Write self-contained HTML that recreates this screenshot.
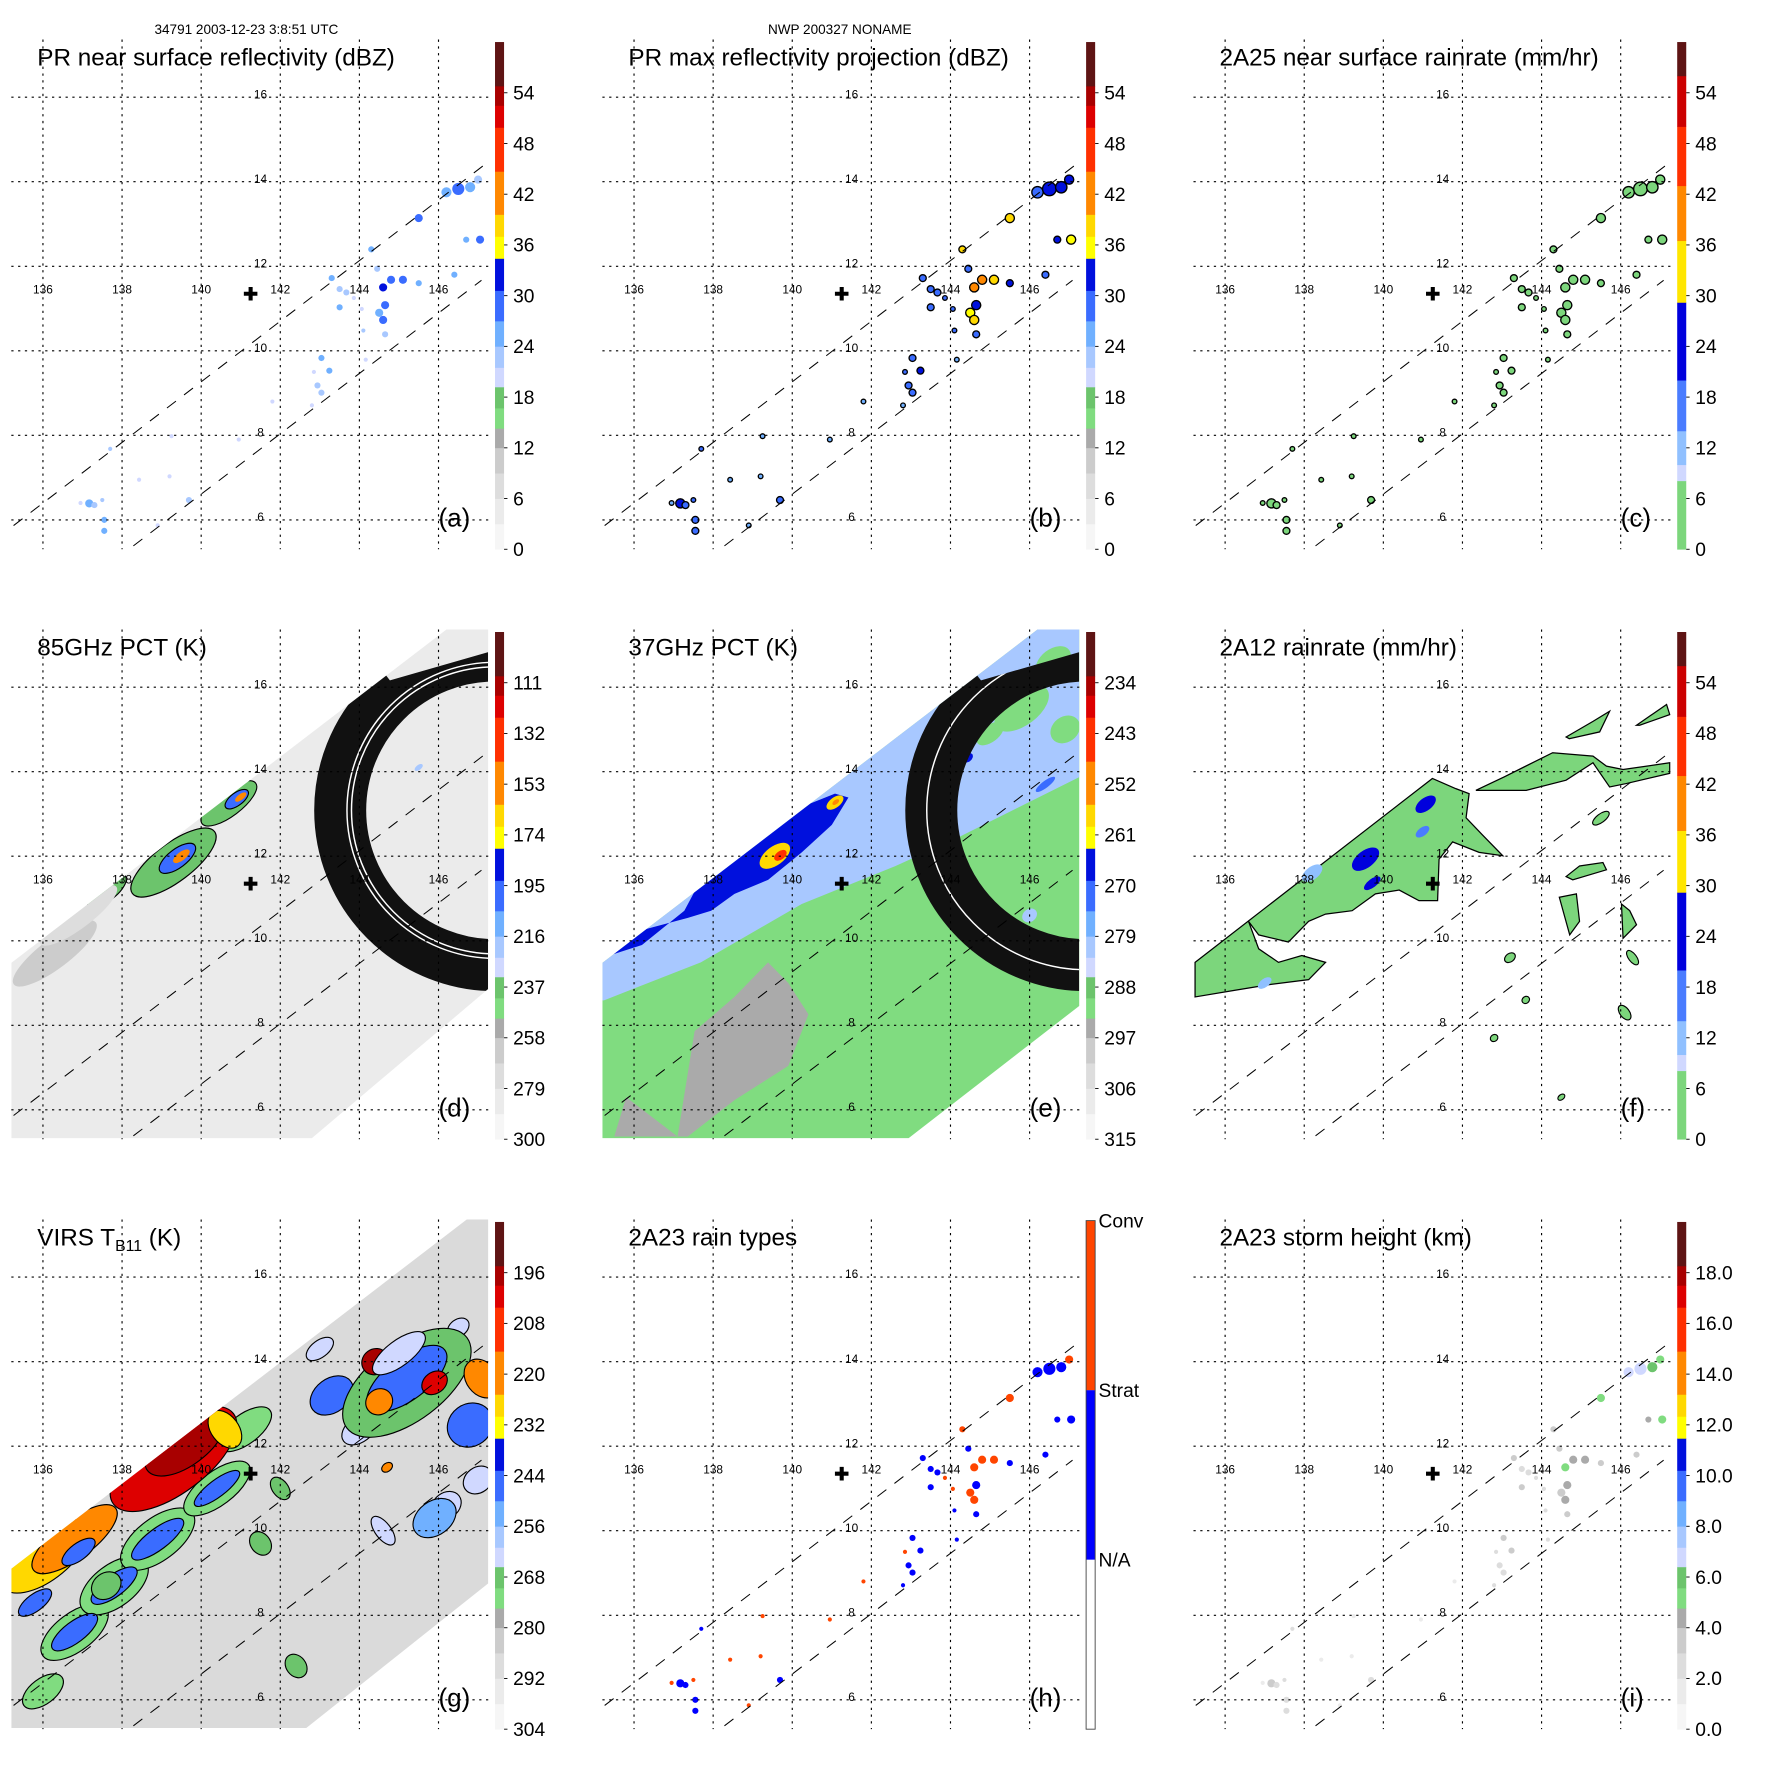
<!DOCTYPE html>
<html><head><meta charset="utf-8"><title>TRMM overpass panels</title>
<style>html,body{margin:0;padding:0;background:#fff}svg{display:block}text{font-family:"Liberation Sans",Arial,sans-serif}</style>
</head><body>
<svg id="fig" xmlns="http://www.w3.org/2000/svg" width="1771" height="1771" viewBox="0 0 1567 1567"></svg>
<script>
// ---------------- DATA ----------------
const prLon=[146.2,146.5,146.8,147.0,145.5,146.7,147.05,144.3,144.45,144.8,145.1,145.5,144.6,144.65,144.5,144.6,144.65,143.3,143.5,143.67,143.5,143.86,144.06,144.1,146.4,143.04,143.24,142.94,143.04,142.85,144.16,142.8,141.8,140.95,139.25,137.7,138.43,139.2,137.17,137.5,137.55,137.55,139.69,138.9,136.95,137.3];
const prLat=[13.75,13.83,13.87,14.05,13.14,12.63,12.63,12.4,11.94,11.68,11.68,11.6,11.5,11.08,10.9,10.73,10.39,11.72,11.46,11.38,11.03,11.25,10.99,10.48,11.8,9.83,9.53,9.18,9.01,9.5,9.79,8.71,8.8,7.9,7.98,7.68,6.95,7.03,6.39,6.47,6.0,5.74,6.47,5.87,6.4,6.35];
const nsDbz=[26,28,24,22,27,26,30,24,23,30,28,24,32,27,26,30,22,24,23,22,24,21,21,22,24,24,25,23,22,21,21,21,20,20,20,23,20,20,25,22,25,24,23,20,21,22];
const maxDbz=[30,33,31,34,38,32,35,37,30,42,38,31,40,33,36,38,29,30,29,28,29,27,27,28,30,30,31,29,28,27,26,26,25,25,24,28,24,24,31,28,30,29,29,25,26,28];
const rainRate=[2,3,2,3,4,2,3,3,2,6,4,2,7,3,4,5,2,2,1,1,2,1,1,1,2,2,2,2,1,1,1,1,1,1,1,1,1,1,2,1,2,2,1,1,1,1];
const rainType=[1,1,1,2,2,1,1,2,1,2,2,1,2,1,2,2,1,1,1,1,1,2,2,1,1,1,1,1,1,2,1,1,2,2,2,1,2,2,1,2,1,1,1,2,2,1];
const stormHt=[6.5,6.8,6.2,5.5,5.0,4.5,5.0,3.5,3.0,4.5,4.0,3.5,5.0,4.0,3.5,4.0,3.0,3.0,2.5,2.5,3.0,2.5,2.5,2.5,3.0,3.0,3.0,2.5,2.5,2.0,2.0,2.0,1.5,1.5,1.5,2.0,1.5,1.5,3.0,2.5,2.5,2.5,2.0,1.5,1.5,2.0];
const prSize=[4,5,4,3,3,2,3,2,2,3,3,2,3,3,3,3,2,2,2,2,2,1,1,1,2,2,2,2,2,1,1,1,1,1,1,1,1,1,3,1,2,2,2,1,1,2];

// 85 GHz PCT cells (K): lon, lat, value, extent (deg)
const p85Lon=[136.3,137.6,139.3,140.7,139.4,140.9,143.9,145.5,139.5,141.0,136.9];
const p85Lat=[9.7,11.2,11.85,13.25,11.95,13.35,14.7,14.1,12.0,13.4,10.6];
const p85Val=[268,240,240,240,205,205,215,220,150,150,272];
const p85Rx=[1.3,0.6,1.3,0.85,0.55,0.35,0.15,0.12,0.25,0.17,1.2];
const p85Ry=[0.35,0.25,0.45,0.3,0.22,0.15,0.08,0.06,0.1,0.07,0.3];

// 37 GHz PCT (K)
const p37Base=292, p37Edge=280;
const p37EdgeLon=[135.0,135.24,137.69,140.24,142.61,144.14,147.27,147.6,147.6,135.0];
const p37EdgeLat=[8.59,8.59,9.49,10.87,11.77,12.42,13.88,13.88,18.0,18.0];
const p37BandLon=[137.27,137.69,139.05,140.41,141.08,141.42,141.0,140.24,139.39,138.54,137.95,137.36,136.0,135.2,135.2,136.2];
const p37BandLat=[10.71,11.44,12.34,13.23,13.48,13.39,12.74,12.09,11.44,11.11,10.71,10.54,10.2,10.0,9.6,9.9];
const p37BandVal=266;
const p37GrayLon=[137.1,137.53,138.54,139.39,139.9,140.41,139.9,138.54,137.36,135.5,135.8];
const p37GrayLat=[5.37,7.86,8.67,9.49,9.0,8.26,7.04,6.23,5.37,5.37,6.3];
const p37GrayVal=296;
const p37Lon=[145.8,146.6,145.0,146.9,139.56,139.7,141.08,141.1,144.43,146.4,146.0];
const p37Lat=[15.5,16.6,14.9,15.0,12.01,12.02,13.27,13.28,14.33,13.7,10.6];
const p37Val=[290,290,290,290,259,245,259,250,266,272,280];
const p37Rx=[0.8,0.5,0.4,0.4,0.45,0.18,0.25,0.1,0.15,0.3,0.2];
const p37Ry=[0.4,0.3,0.2,0.3,0.22,0.1,0.12,0.05,0.1,0.08,0.15];

// 2A12 rain polygons (mm/hr)
const f1Lon=[135.24,141.24,141.83,142.17,142.09,142.51,143.02,142.42,141.75,141.41,141.37,140.9,140.4,139.8,139.21,138.54,138.11,137.6,136.85,136.59,136.85,137.35,137.94,138.54,138.11,137.1,136.25,135.24];
const f1Lat=[9.49,13.84,13.6,13.48,12.91,12.5,12.01,12.09,12.34,11.93,10.95,10.95,11.2,11.11,10.71,10.63,10.46,9.97,10.14,10.46,9.81,9.49,9.65,9.49,9.08,8.96,8.83,8.67];
const f2Lon=[142.34,143.06,144.28,145.3,145.64,146.06,147.24,147.24,146.14,145.72,145.3,144.62,143.61,143.1];
const f2Lat=[13.56,13.88,14.45,14.37,14.13,14.05,14.21,13.96,13.72,13.64,14.21,13.8,13.56,13.56];
const f3Lon=[144.62,145.3,145.72,145.47,144.7];
const f3Lat=[14.82,15.19,15.43,14.94,14.78];
const f4Lon=[146.4,147.16,147.24,146.48];
const f4Lat=[15.1,15.59,15.35,15.1];
const f5Lon=[144.62,144.96,145.55,145.64,144.79];
const f5Lat=[11.52,11.77,11.85,11.68,11.44];
const f6Lon=[144.45,144.88,144.96,144.71];
const f6Lat=[11.03,11.11,10.46,10.14];
const f7Lon=[146.02,146.23,146.4,146.06];
const f7Lat=[10.87,10.71,10.38,10.06];
const fRain=[2,2,2,2,2,2,2];
const fCellLon=[141.07,139.55,140.99,139.72,138.2,137.0,143.2,146.3,145.5,142.8,143.6,146.1,144.5];
const fCellLat=[13.23,11.93,12.58,11.36,11.6,9.0,9.6,9.6,12.9,7.7,8.6,8.3,6.3];
const fCellVal=[20,24,18,20,10,10,2,2,2,2,2,2,2];
const fCellRx=[0.3,0.4,0.2,0.25,0.3,0.2,0.15,0.1,0.25,0.1,0.1,0.12,0.1];
const fCellRy=[0.15,0.2,0.1,0.1,0.15,0.1,0.1,0.2,0.1,0.08,0.08,0.2,0.06];

// VIRS TB11 cells (K)
const vLon=[136.8,137.8,138.9,140.4,141.1,136.0,143.3,144.0,146.8,147.0,146.2,143.0,146.5,136.8,137.8,138.9,140.4,136.0,136.8,136.9,135.8,139.3,139.6,140.6,145.2,145.2,144.4,144.5,145.9,147.1,144.7,145.9,144.6,142.4,142.0,141.5,145.0,137.6];
const vLat=[7.6,8.7,9.8,11.0,12.4,6.2,13.2,12.4,12.5,11.2,10.6,14.3,14.8,7.6,8.7,9.8,11.0,9.4,9.8,9.5,8.3,11.7,12.1,12.4,13.5,13.6,14.0,13.05,13.5,13.6,11.5,10.3,10.0,6.8,11.0,9.7,14.2,8.7];
const vVal=[272,272,272,272,272,272,250,262,248,262,262,262,262,248,248,248,248,230,218,245,245,203,197,225,266,248,198,218,203,218,218,255,262,266,266,266,262,270];
const vRx=[1.0,1.0,1.1,1.0,0.8,0.6,0.6,0.5,0.6,0.4,0.4,0.4,0.3,0.7,0.7,0.8,0.7,1.3,1.3,0.5,0.5,1.9,1.2,0.35,1.9,1.2,0.35,0.35,0.35,0.4,0.15,0.6,0.2,0.25,0.2,0.25,0.8,0.4];
const vRy=[0.45,0.5,0.5,0.4,0.35,0.3,0.4,0.3,0.5,0.3,0.3,0.2,0.2,0.25,0.25,0.25,0.2,0.6,0.45,0.2,0.2,0.8,0.55,0.5,0.9,0.5,0.3,0.3,0.25,0.5,0.1,0.4,0.4,0.3,0.3,0.3,0.3,0.3];

// colorbar tick labels
const ticksDbz=['0','6','12','18','24','30','36','42','48','54'];
const ticks85=['300','279','258','237','216','195','174','153','132','111'];
const ticks37=['315','306','297','288','279','270','261','252','243','234'];
const ticksVirs=['304','292','280','268','256','244','232','220','208','196'];
const ticksHt=['0.0','2.0','4.0','6.0','8.0','10.0','12.0','14.0','16.0','18.0'];
const ticksType=['N/A','Strat','Conv'];
const lonTicks=[136,138,140,142,144,146];
const latTicks=[16,14,12,10,8,6];
const siteLon=141.25, siteLat=11.35;

// ---------------- RENDER ----------------
const NS='http://www.w3.org/2000/svg';
const svg=document.getElementById('fig');
function mk(tag,parent,attrs){const e=document.createElementNS(NS,tag);for(const k in attrs)e.setAttribute(k,attrs[k]);parent.appendChild(e);return e;}
const dbzBands=[[0,3,'#f6f6f6'],[3,6,'#ebebeb'],[6,9,'#dddddd'],[9,12,'#cccccc'],[12,14.3,'#aaaaaa'],[14.3,16.7,'#80dc80'],[16.7,19.2,'#6cc46c'],[19.2,21.5,'#d0d8ff'],[21.5,24,'#a8c8ff'],[24,27,'#70b0ff'],[27,30.6,'#3a6cff'],[30.6,34.4,'#0010dd'],[34.4,37,'#ffff00'],[37,39.6,'#ffd800'],[39.6,44.7,'#ff8800'],[44.7,49.9,'#ff3000'],[49.9,52.5,'#dd0000'],[52.5,54.8,'#a80000'],[54.8,60,'#5e1414']];
const rainBands=[[0,8.1,'#7cd67c'],[8.1,10,'#d0d8ff'],[10,14,'#90c0ff'],[14,20,'#4a7cff'],[20,29.2,'#0000dd'],[29.2,36.5,'#ffe600'],[36.5,43,'#ff8800'],[43,50,'#ff3000'],[50,56,'#cc0000'],[56,60,'#5e1414']];
function band(b,v){for(const s of b){if(v<s[1])return s[2];}return b[b.length-1][2];}
const cDbz=v=>band(dbzBands,Math.max(0,v));
const cRain=v=>band(rainBands,Math.max(0,v));
const c85=v=>cDbz((300-v)/3.5), c37=v=>cDbz((315-v)/1.5), cV=v=>cDbz((304-v)/2), cHt=v=>cDbz(v*3);

function panel(c,r,name){
  const ox=10+523*c, oy=35+522*r;
  const P={ox,oy,x:lon=>ox+28+(lon-136)*35,y:lat=>oy+51+(16-lat)*37.4};
  const g=mk('g',svg,{});
  
  
  const cp=mk('clipPath',svg,{id:'clip'+c+r});mk('rect',cp,{x:ox,y:oy,width:422,height:451});
  P.g=g;P.map=mk('g',g,{'clip-path':'url(#clip'+c+r+')'});
  
  
  return P;
}
function poly(P,parent,lons,lats,fill,stroke){
  const pts=lons.map((l,i)=>P.x(l).toFixed(1)+','+P.y(lats[i]).toFixed(1)).join(' ');
  return mk('polygon',parent,{points:pts,fill:fill,stroke:stroke||'none','stroke-width':1.1});
}
function ell(P,parent,lon,lat,rx,ry,fill,stroke){
  const cx=P.x(lon),cy=P.y(lat);
  return mk('ellipse',parent,{cx:cx,cy:cy,rx:rx*35,ry:ry*37.4,fill:fill,stroke:stroke||'none','stroke-width':1,transform:'rotate(-37 '+cx+' '+cy+')'});
}
function swath(P,pts,fill){
  const s=mk('polygon',P.map,{points:pts.map(p=>(P.ox+p[0])+','+(P.oy+p[1])).join(' '),fill:fill});
  
  
  const cp=mk('clipPath',svg,{id:'sw'+P.ox+P.oy});mk('polygon',cp,{points:s.getAttribute('points')});
  const inner=mk('g',P.map,{'clip-path':'url(#sw'+P.ox+P.oy+')'});
  return inner;
}
function arcs(P,parent,rings){
  const cx=P.ox+428,cy=P.oy+160;
  const id='arc'+P.ox+P.oy;
  const cp=mk('clipPath',svg,{id:id});
  mk('polygon',cp,{points:[[0,0],[300,0],[335,45],[422,20],[422,450],[0,450]].map(p=>(P.ox+p[0])+','+(P.oy+p[1])).join(' ')});
  const a=mk('g',parent,{'clip-path':'url(#'+id+')'});
  
  
  mk('circle',a,{cx,cy,r:137,fill:'none',stroke:'#111','stroke-width':46});
  for(const rr of rings)mk('circle',a,{cx,cy,r:rr,fill:'none',stroke:'#fff','stroke-width':1.3});
}
function frame(P,title,letter,sub){
  const g=P.g;
  const grid=mk('g',g,{stroke:'#000','stroke-width':1,'stroke-dasharray':'2,4'});
  
  
  for(const lon of lonTicks){const x=P.x(lon);mk('line',grid,{x1:x,y1:P.oy,x2:x,y2:P.oy+451});}
  for(const lat of latTicks){const y=P.y(lat);mk('line',grid,{x1:P.ox,y1:y,x2:P.ox+422,y2:y});}
  const sl=mk('g',g,{stroke:'#000','stroke-width':0.9,'stroke-dasharray':'10,9',fill:'none'});
  
  
  mk('line',sl,{x1:P.ox+2,y1:P.oy+430,x2:P.ox+421,y2:P.oy+109});
  mk('line',sl,{x1:P.ox+108,y1:P.oy+448,x2:P.ox+416,y2:P.oy+213});
  for(const lon of lonTicks){const t=mk('text',g,{x:P.x(lon),y:P.y(11.35),'font-size':10.5,'text-anchor':'middle'});t.textContent=lon;
    
    }
  for(const lat of latTicks){const t=mk('text',g,{x:P.x(141.5),y:P.y(lat)+1,'font-size':10.5,'text-anchor':'middle'});t.textContent=lat;
    
    }
  const sx=P.x(siteLon),sy=P.y(siteLat);
  const m=mk('path',g,{d:`M${sx-6} ${sy}H${sx+6}M${sx} ${sy-6}V${sy+6}`,stroke:'#000','stroke-width':3.6});
  
  
  const t=mk('text',g,{x:P.ox+23,y:P.oy+23,'font-size':21.5});
  
  
  t.textContent=title;
  if(sub){const ts=mk('tspan',t,{'font-size':14,dy:5});ts.textContent=sub;const t2=mk('tspan',t,{dy:-5});t2.textContent=' (K)';}
  const l=mk('text',g,{x:P.ox+378,y:P.oy+431,'font-size':23});
  
  
  l.textContent=letter;
}
function colorbar(P,bands,labels){
  const cb=mk('g',P.g,{});
  
  
  const x=P.ox+428, y0=P.oy+451, k=7.48;
  for(const b of bands){mk('rect',cb,{x:x,y:y0-b[1]*k,width:8,height:(b[1]-b[0])*k+0.3,fill:b[2]});}
  labels.forEach((s,i)=>{const y=y0-i*6*k;
    mk('line',cb,{x1:x+8,y1:y,x2:x+11,y2:y,stroke:'#000','stroke-width':0.8});
    const t=mk('text',cb,{x:x+16,y:y+6,'font-size':17});
    
    
    t.textContent=s;});
}
function prPoints(P,vals,colorFn,stroke,scale){
  const g=mk('g',P.map,{});
  
  
  prLon.forEach((lon,i)=>{
    const c=mk('circle',g,{cx:P.x(lon),cy:P.y(prLat[i]),r:(1.2+prSize[i]*1.1)*scale,fill:colorFn(vals[i]),stroke:stroke||'none','stroke-width':1.2});
    
    
  });
}

let h=mk('text',svg,{x:218,y:30,'font-size':12,'text-anchor':'middle'});h.textContent='34791 2003-12-23 3:8:51 UTC';


h=mk('text',svg,{x:743,y:30,'font-size':12,'text-anchor':'middle'});h.textContent='NWP 200327 NONAME';



// (a)
let P=panel(0,0,'panel-a-near-surface-reflectivity');
prPoints(P,nsDbz,cDbz,null,0.8);
frame(P,'PR near surface reflectivity (dBZ)','(a)');colorbar(P,dbzBands,ticksDbz);
// (b)
P=panel(1,0,'panel-b-max-reflectivity');
prPoints(P,maxDbz,cDbz,'#000',0.9);
frame(P,'PR max reflectivity projection (dBZ)','(b)');colorbar(P,dbzBands,ticksDbz);
// (c)
P=panel(2,0,'panel-c-2a25-rainrate');
prPoints(P,rainRate,cRain,'#000',0.9);
frame(P,'2A25 near surface rainrate (mm/hr)','(c)');colorbar(P,rainBands,ticksDbz);
// (d)
P=panel(0,1,'panel-d-85ghz-pct');
let S=swath(P,[[0,295],[385,0],[422,0],[422,318],[266,450],[0,450]],'#ebebeb');
p85Lon.forEach((lon,i)=>{const e=ell(P,S,lon,p85Lat[i],p85Rx[i],p85Ry[i],c85(p85Val[i]),p85Val[i]<250&&p85Rx[i]>0.3?'#000':'none');
  
  });
arcs(P,S,[127,131]);
frame(P,'85GHz PCT (K)','(d)');colorbar(P,dbzBands,ticks85);
// (e)
P=panel(1,1,'panel-e-37ghz-pct');
S=swath(P,[[0,295],[385,0],[422,0],[422,333],[271,450],[0,450]],c37(p37Base));
let e=poly(P,S,p37EdgeLon,p37EdgeLat,c37(p37Edge));

e=poly(P,S,p37GrayLon,p37GrayLat,c37(p37GrayVal));

e=poly(P,S,p37BandLon,p37BandLat,c37(p37BandVal));

p37Lon.forEach((lon,i)=>{const q=ell(P,S,lon,p37Lat[i],p37Rx[i],p37Ry[i],c37(p37Val[i]));
  
  });
arcs(P,S,[141]);
frame(P,'37GHz PCT (K)','(e)');colorbar(P,dbzBands,ticks37);
// (f)
P=panel(2,1,'panel-f-2a12-rainrate');
const fPolys=[[f1Lon,f1Lat],[f2Lon,f2Lat],[f3Lon,f3Lat],[f4Lon,f4Lat],[f5Lon,f5Lat],[f6Lon,f6Lat],[f7Lon,f7Lat]];
fPolys.forEach((pp,i)=>{const q=poly(P,P.map,pp[0],pp[1],cRain(fRain[i]),'#000');
  
  });
fCellLon.forEach((lon,i)=>{const q=ell(P,P.map,lon,fCellLat[i],fCellRx[i],fCellRy[i],cRain(fCellVal[i]),fCellVal[i]<5?'#000':'none');
  
  });
frame(P,'2A12 rainrate (mm/hr)','(f)');colorbar(P,rainBands,ticksDbz);
// (g)
P=panel(0,2,'panel-g-virs-tb11');
S=swath(P,[[0,309],[403,0],[422,0],[422,322],[261,450],[0,450]],'#dadada');
vLon.forEach((lon,i)=>{const q=ell(P,S,lon,vLat[i],vRx[i],vRy[i],cV(vVal[i]),'#000');
  
  });
frame(P,'VIRS T','(g)','B11');colorbar(P,dbzBands,ticksVirs);
// (h)
P=panel(1,2,'panel-h-rain-types');
prPoints(P,rainType,v=>v===2?'#ff4500':'#0000ff',null,0.8);
frame(P,'2A23 rain types','(h)');
{const cb=mk('g',P.g,{});
 
 
 const x=P.ox+428,cols=['#ffffff','#0000ff','#ff4500'];
 for(let i=0;i<3;i++)mk('rect',cb,{x:x,y:P.oy+451-(i+1)*150,width:8,height:150,fill:cols[i]});
 mk('rect',cb,{x:x,y:P.oy+1,width:8,height:450,fill:'none',stroke:'#444','stroke-width':0.8});
 ticksType.forEach((s,i)=>{const t=mk('text',cb,{x:x+11,y:P.oy+301-i*150+6,'font-size':17});
   
   
   t.textContent=s;});}
// (i)
P=panel(2,2,'panel-i-storm-height');
prPoints(P,stormHt,cHt,null,0.8);
frame(P,'2A23 storm height (km)','(i)');colorbar(P,dbzBands,ticksHt);
</script>
</body></html>
